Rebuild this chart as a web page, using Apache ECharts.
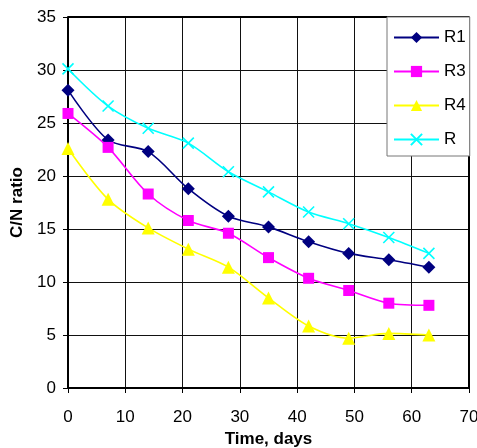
<!DOCTYPE html>
<html><head><meta charset="utf-8">
<script src="https://cdn.jsdelivr.net/npm/echarts@6/dist/echarts.min.js"></script>
<style>html,body{margin:0;padding:0;background:#fff}#c{width:477px;height:448px}</style>
</head><body><div id="c"></div>
<script>
const days = [0, 7, 14, 21, 28, 35, 42, 49, 56, 63];
const R1 = [28.1, 23.4, 22.3, 18.8, 16.2, 15.2, 13.8, 12.7, 12.1, 11.4];
const R3 = [25.9, 22.7, 18.3, 15.8, 14.6, 12.3, 10.35, 9.2, 8.0, 7.8];
const R4 = [22.6, 17.8, 15.1, 13.1, 11.4, 8.5, 5.85, 4.7, 5.15, 5.0];
const R  = [30.1, 26.6, 24.5, 23.1, 20.4, 18.5, 16.6, 15.5, 14.2, 12.7];
const xTicks = [0, 10, 20, 30, 40, 50, 60, 70];
const yTicks = [0, 5, 10, 15, 20, 25, 30, 35];

const pair = arr => days.map((d, i) => [d, arr[i]]);
const font = 'Liberation Sans, Arial, sans-serif';
const chart = echarts.init(document.getElementById('c'));
function mk(name, data, color, symbol, size, extra) {
  return Object.assign({
    name, type: 'line', data: pair(data), smooth: 0.3,
    symbol, symbolSize: size,
    lineStyle: {color, width: 1.6},
    itemStyle: {color},
    z: 3
  }, extra || {});
}
chart.setOption({
  animation: false,
  grid: {left: 68, right: 8, top: 17, bottom: 60, outerBoundsMode: 'none', containLabel: false},
  xAxis: {
    type: 'value', min: xTicks[0], max: xTicks[xTicks.length - 1], interval: 10,
    name: 'Time, days', nameLocation: 'middle', nameGap: 40,
    nameTextStyle: {fontFamily: font, fontSize: 17, fontWeight: 'bold', color: '#000'},
    axisLine: {show: true, lineStyle: {color: '#000', width: 2}},
    axisTick: {show: true, length: 5, lineStyle: {color: '#000'}},
    axisLabel: {fontFamily: font, fontSize: 17, color: '#000', margin: 21},
    splitLine: {show: true, lineStyle: {color: '#111', width: 1}}
  },
  yAxis: {
    type: 'value', min: yTicks[0], max: yTicks[yTicks.length - 1], interval: 5,
    name: 'C/N ratio', nameLocation: 'middle', nameGap: 30,
    nameTextStyle: {fontFamily: font, fontSize: 17, fontWeight: 'bold', color: '#000'},
    axisLine: {show: true, lineStyle: {color: '#000', width: 2}},
    axisTick: {show: true, length: 5, lineStyle: {color: '#000'}},
    axisLabel: {fontFamily: font, fontSize: 17, color: '#000', margin: 12},
    splitLine: {show: true, lineStyle: {color: '#111', width: 1}}
  },
  legend: {
    orient: 'vertical', left: 387, top: 17,
    padding: [12, 4, 8, 6],
    itemWidth: 45, itemHeight: 14, itemGap: 17,
    backgroundColor: '#fff', borderColor: '#777', borderWidth: 1,
    textStyle: {fontFamily: font, fontSize: 17, color: '#000'},
    data: ['R1', 'R3', 'R4', 'R']
  },
  series: [
    mk('R1', R1, '#000080', 'diamond', 13),
    mk('R3', R3, '#FF00FF', 'rect', 11),
    mk('R4', R4, '#FFFF00', 'triangle', 13),
    mk('R', R, '#00FFFF', 'path://M0,0L10,10M10,0L0,10', 11, {
      itemStyle: {color: 'none', borderColor: '#00FFFF', borderWidth: 1.6}
    }),
    {
      type: 'line', data: [[70, 0], [70, 35], [0, 35]], symbol: 'none', silent: true,
      lineStyle: {color: '#000', width: 2}, z: 2, tooltip: {show: false}
    }
  ]
});
</script></body></html>
